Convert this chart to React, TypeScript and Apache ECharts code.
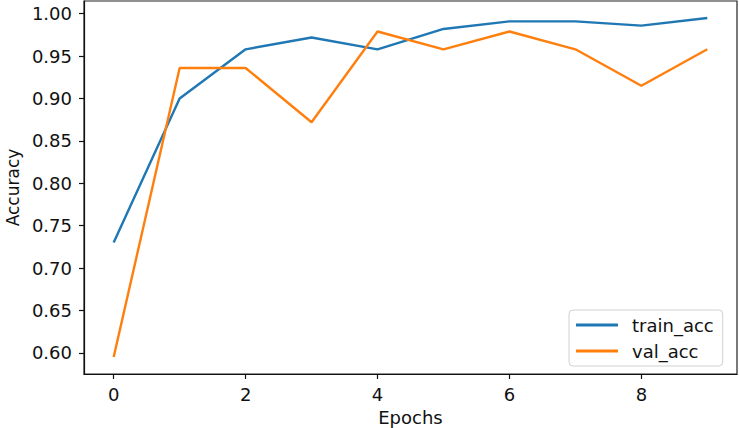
import React, { useEffect, useRef } from "react";
import * as echarts from "echarts";

const epochs = [0, 1, 2, 3, 4, 5, 6, 7, 8, 9];
const trainAcc = [0.73, 0.9, 0.958, 0.972, 0.958, 0.982, 0.991, 0.991, 0.986, 0.995];
const valAcc = [0.595, 0.936, 0.936, 0.872, 0.979, 0.958, 0.979, 0.958, 0.915, 0.958];
const xTicks = [0, 2, 4, 6, 8];
const yTicks = [0.6, 0.65, 0.7, 0.75, 0.8, 0.85, 0.9, 0.95, 1.0];

const FONT = "DejaVu Sans";

export default function App() {
  const ref = useRef<HTMLDivElement>(null);
  useEffect(() => {
    if (!ref.current) return;
    const chart = echarts.init(ref.current, undefined, { renderer: "svg" });
    chart.setOption({
      animation: false,
      backgroundColor: "#ffffff",
      grid: {
        left: 84,
        right: 2,
        top: 1,
        bottom: 54,
        show: true,
        borderColor: "#222",
        borderWidth: 1.2,
        backgroundColor: "transparent",
        containLabel: false,
        outerBoundsMode: "none",
      },
      xAxis: {
        type: "value",
        min: -0.45,
        max: 9.45,
        name: "Epochs",
        nameLocation: "middle",
        nameGap: 34,
        nameTextStyle: { fontFamily: FONT, fontSize: 18, color: "#111" },
        axisLine: { show: true, onZero: false, lineStyle: { color: "#111", width: 1.2 } },
        axisTick: { show: true, length: 5, customValues: xTicks, lineStyle: { color: "#111", width: 1.2 } },
        axisLabel: {
          customValues: xTicks,
          fontFamily: FONT,
          fontSize: 18,
          color: "#111",
          margin: 11,
        },
        splitLine: { show: false },
      },
      yAxis: {
        type: "value",
        min: 0.575,
        max: 1.015,
        name: "Accuracy",
        nameLocation: "middle",
        nameGap: 62,
        nameTextStyle: { fontFamily: FONT, fontSize: 17, color: "#111" },
        axisLine: { show: true, onZero: false, lineStyle: { color: "#111", width: 1.2 } },
        axisTick: { show: true, length: 5, customValues: yTicks, lineStyle: { color: "#111", width: 1.2 } },
        axisLabel: {
          customValues: yTicks,
          formatter: (v: number) => v.toFixed(2),
          fontFamily: FONT,
          fontSize: 18,
          color: "#111",
          margin: 12,
        },
        splitLine: { show: false },
      },
      legend: {
        orient: "vertical",
        left: 569,
        top: 310,
        padding: [5, 9, 5, 7],
        itemGap: 6,
        itemWidth: 42,
        itemHeight: 3,
        icon: "rect",
        backgroundColor: "#fff",
        borderColor: "#d0d0d0",
        borderWidth: 1,
        borderRadius: 4,
        textStyle: { fontFamily: FONT, fontSize: 18, color: "#111", padding: [0, 0, 0, 9], lineHeight: 20 },
        data: ["train_acc", "val_acc"],
      },
      series: [
        {
          name: "train_acc",
          type: "line",
          data: epochs.map((e, i) => [e, trainAcc[i]]),
          showSymbol: false,
          symbol: "none",
          lineStyle: { color: "#1f77b4", width: 2.4 },
          itemStyle: { color: "#1f77b4" },
        },
        {
          name: "val_acc",
          type: "line",
          data: epochs.map((e, i) => [e, valAcc[i]]),
          showSymbol: false,
          symbol: "none",
          lineStyle: { color: "#ff7f0e", width: 2.4 },
          itemStyle: { color: "#ff7f0e" },
        },
      ],
    });
    return () => chart.dispose();
  }, []);
  return (
    <div
      ref={ref}
      style={{ position: "fixed", left: 0, top: 0, width: 739, height: 428 }}
    />
  );
}
